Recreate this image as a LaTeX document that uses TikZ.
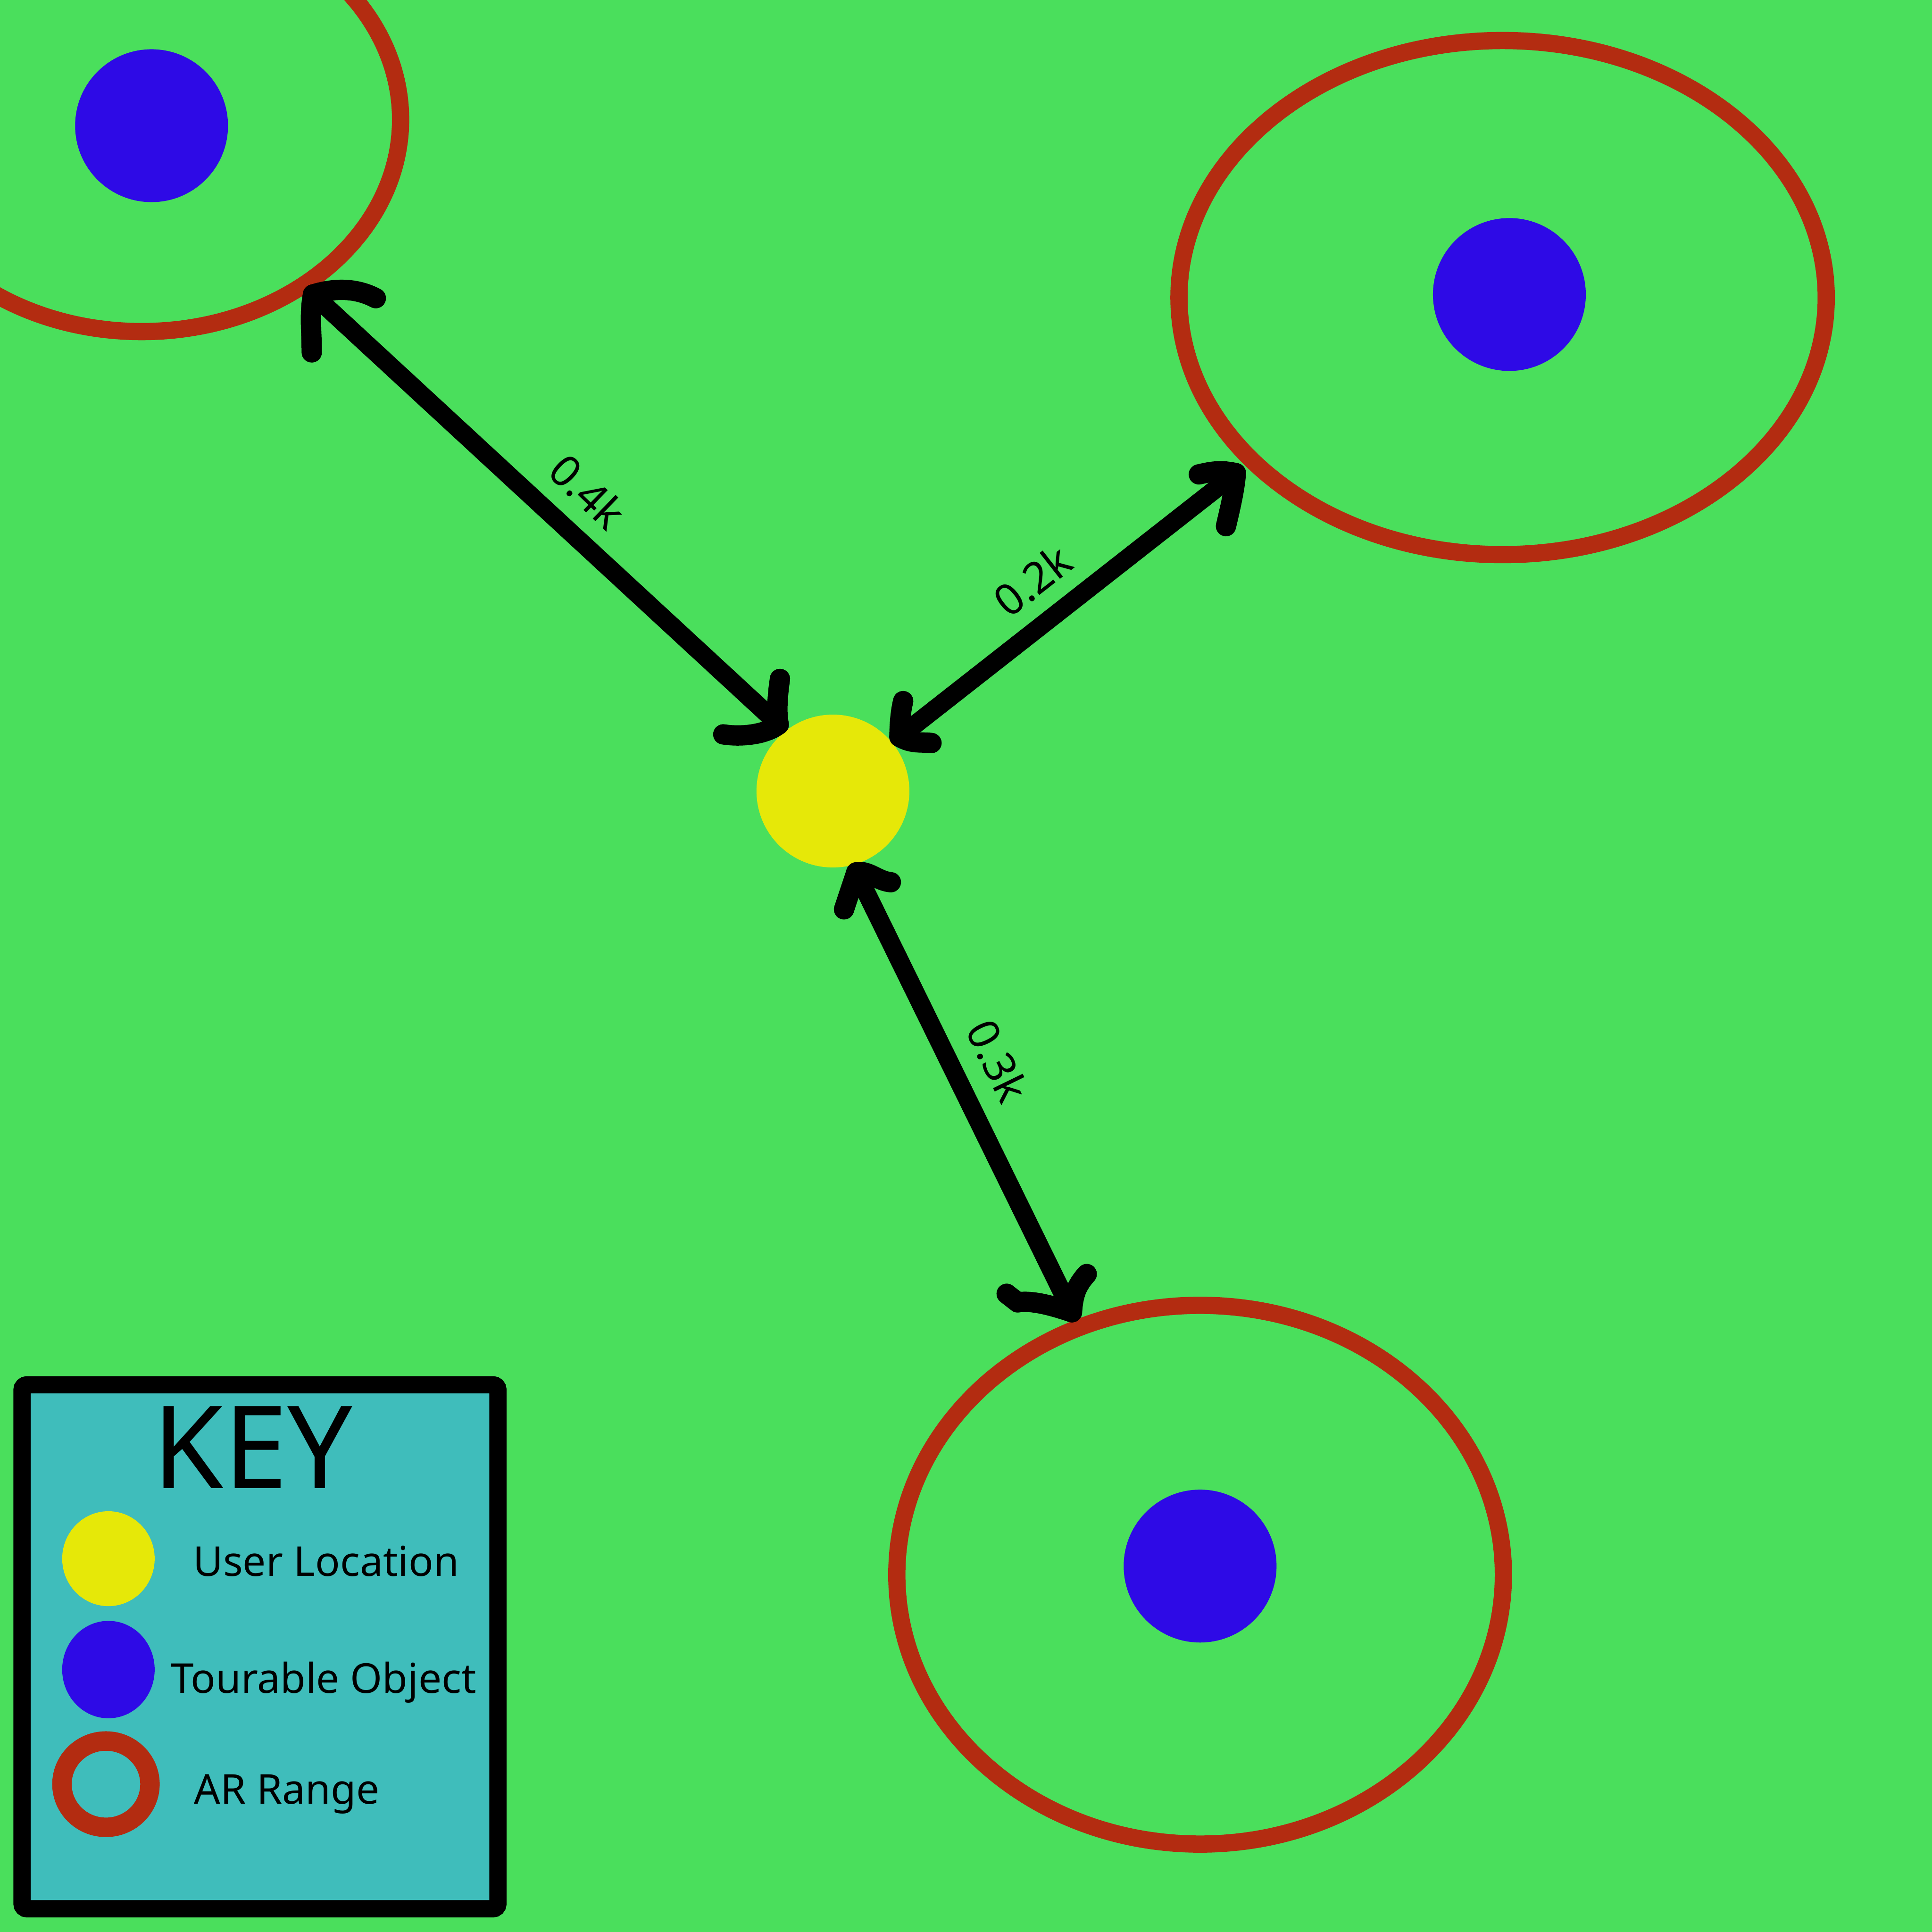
\documentclass[tikz,border=0pt]{standalone}
\usepackage{fontspec}
\setmainfont{Noto Sans}
\usetikzlibrary{shapes.geometric}
\definecolor{bggreen}{RGB}{74,223,92}
\definecolor{ringred}{RGB}{179,44,17}
\definecolor{objblue}{RGB}{46,10,230}
\definecolor{useryellow}{RGB}{230,232,8}
\definecolor{keyteal}{RGB}{63,189,187}
\tikzset{
 ring/.style={draw=ringred, line width=0.14cm, ellipse, inner sep=0pt},
 obj/.style={fill=objblue, circle, inner sep=0pt, minimum size=1.24cm},
 user/.style={fill=useryellow, circle, inner sep=0pt, minimum size=1.24cm},
 shaft/.style={line width=0.15cm, line cap=round},
 barb/.style={line width=0.165cm, line cap=round, line join=round},
 dist/.style={font=\fontsize{10}{12}\selectfont, inner sep=1pt},
 keytext/.style={font=\fontsize{9.5}{12}\selectfont, anchor=base west, inner sep=0pt},
}
\begin{document}
\begin{tikzpicture}[x=0.01cm,y=-0.01cm]
\useasboundingbox (0,0) rectangle (1568,1568);
\fill[bggreen] (0,0) rectangle (1568,1568);
\begin{scope}
\clip (0,0) rectangle (1568,1568);
% AR ranges
\node[ring, minimum width=4.20cm, minimum height=3.44cm] (r1) at (115,97) {};
\node[ring, minimum width=5.25cm, minimum height=4.17cm] (r2) at (1219.5,241.5) {};
\node[ring, minimum width=4.92cm, minimum height=4.37cm] (r3) at (974,1278) {};
% tourable objects
\node[obj] (o1) at (123,102) {};
\node[obj] (o2) at (1225,239) {};
\node[obj] (o3) at (974,1271) {};
% user
\node[user] (u) at (676,642) {};
% arrow 1
\coordinate (a1s) at (254,239);
\coordinate (a1e) at (632,588);
\draw[shaft] (a1s) -- (a1e);
\draw[barb] (a1s) .. controls (270,234) and (288,233) .. (305,242);
\draw[barb] (a1s) .. controls (251,255) and (253,270) .. (253,286);
\draw[barb] (a1e) .. controls (620,597) and (600,598) .. (587,596);
\draw[barb] (a1e) .. controls (630,578) and (631,565) .. (633,551);
% arrow 2
\coordinate (a2s) at (730,598);
\coordinate (a2e) at (1003,384);
\draw[shaft] (a2s) -- (a2e);
\draw[barb] (a2s) .. controls (730,588) and (731,577) .. (733,569);
\draw[barb] (a2s) .. controls (740,604) and (748,602) .. (756,603);
\draw[barb] (a2e) .. controls (990,381) and (982,383) .. (973,385);
\draw[barb] (a2e) .. controls (1002,398) and (998,414) .. (995,427);
% arrow 3
\coordinate (a3s) at (695,708);
\coordinate (a3e) at (870,1065);
\draw[shaft] (a3s) -- (a3e);
\draw[barb] (a3s) .. controls (705,706) and (712,715) .. (723,716);
\draw[barb] (a3s) -- (685,738);
\draw[barb] (a3e) .. controls (855,1060) and (838,1055) .. (826,1057) -- (817,1050);
\draw[barb] (a3e) .. controls (871,1050) and (874,1043) .. (882,1034);
% distance labels
\node[dist, rotate=-44] (l1) at (477,399) {0.4k};
\node[dist, rotate=38] (l2) at (838,471) {0.2k};
\node[dist, rotate=-64] (l3) at (810,861) {0.3k};
% key
\node[draw=black, fill=keyteal, line width=0.14cm, rounded corners=0.04cm, minimum width=3.86cm, minimum height=4.25cm, inner sep=0pt] (key) at (211,1336.5) {};
\node[font=\fontsize{26.5}{30}\selectfont, anchor=base, inner sep=0pt] (keyt) at (205,1208) {KEY};
\node[fill=useryellow, ellipse, minimum width=0.75cm, minimum height=0.77cm, inner sep=0pt] (ky) at (88,1265) {};
\node[fill=objblue, ellipse, minimum width=0.75cm, minimum height=0.79cm, inner sep=0pt] (kb) at (88,1355) {};
\node[draw=ringred, line width=0.158cm, ellipse, minimum width=0.714cm, minimum height=0.70cm, inner sep=0pt] (kr) at (86,1448) {};
\node[keytext] (t1) at (156,1279) {User Location};
\node[keytext] (t2) at (138,1374) {Tourable Object};
\node[keytext] (t3) at (157,1464) {AR Range};
\end{scope}
\end{tikzpicture}
\end{document}
